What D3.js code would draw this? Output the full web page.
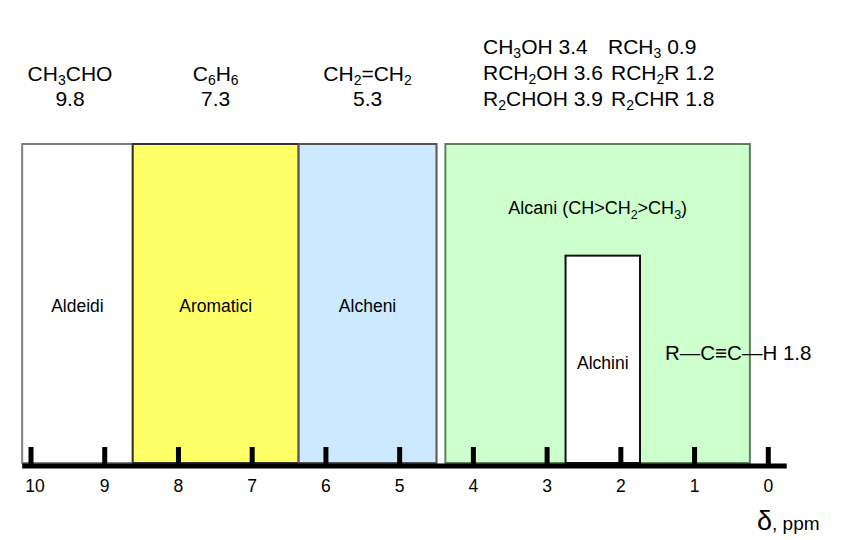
<!DOCTYPE html>
<html><head><meta charset="utf-8">
<script src="https://cdn.jsdelivr.net/npm/d3@7"></script>
<style>
html,body{margin:0;padding:0;background:#fff;}
svg{display:block;font-family:"Liberation Sans",Arial,Helvetica,sans-serif;}
</style></head>
<body>
<svg id="chart" width="853" height="540"></svg>
<script>
// ---- data ----
const regions   = ["Aldeidi", "Aromatici", "Alcheni", "Alcani", "Alchini"];
const fromPpm   = [10.12, 8.62, 6.37, 4.38, 2.75];
const toPpm     = [8.62, 6.37, 4.50, 0.25, 1.74];
const heights   = [100, 100, 100, 100, 65];
const fills     = ["#ffffff", "#ffff66", "#cce9ff", "#ccffcc", "#ffffff"];
const strokes   = ["#808080", "#333333", "#555555", "#5f7f5f", "#111111"];
const ticks     = [10, 9, 8, 7, 6, 5, 4, 3, 2, 1, 0];
// reference compounds above the first three regions: [parts], ppm
const topCompounds = [
  {parts: [["CH"], ["3", "sub"], ["CHO"]], ppm: "9.8", region: 0},
  {parts: [["C"], ["6", "sub"], ["H"], ["6", "sub"]], ppm: "7.3", region: 1},
  {parts: [["CH"], ["2", "sub"], ["=CH"], ["2", "sub"]], ppm: "5.3", region: 2}
];
const alcoholLines = [
  [["CH"], ["3", "sub"], ["OH 3.4"]],
  [["RCH"], ["2", "sub"], ["OH 3.6"]],
  [["R"], ["2", "sub"], ["CHOH 3.9"]]
];
const alkylLines = [
  [["RCH"], ["3", "sub"], [" 0.9"]],
  [["RCH"], ["2", "sub"], ["R 1.2"]],
  [["R"], ["2", "sub"], ["CHR 1.8"]]
];
const alcaniLabel = [["Alcani (CH>CH"], ["2", "sub"], [">CH"], ["3", "sub"], [")"]];
const alchiniNote = "R\u2014C\u2261C\u2014H 1.8";

// ---- scales ----
const svg = d3.select("#chart");
const x = d3.scaleLinear().domain([10, 0]).range([31, 768.3]);
const y = d3.scaleLinear().domain([0, 100]).range([463, 144]);

function addParts(textSel, parts, subSize, shift) {
  let wasSub = false;
  parts.forEach(([t, kind]) => {
    const ts = textSel.append("tspan").text(t);
    if (kind === "sub") { ts.attr("font-size", subSize).attr("dy", shift); wasSub = true; }
    else if (wasSub) { ts.attr("dy", -shift); wasSub = false; }
  });
}

// ---- region boxes ----
const idx = d3.range(regions.length);
svg.append("g").selectAll("rect").data(idx).join("rect")
  .attr("x", i => x(fromPpm[i]))
  .attr("y", i => y(heights[i]))
  .attr("width", i => x(toPpm[i]) - x(fromPpm[i]))
  .attr("height", i => y(0) - y(heights[i]))
  .attr("fill", i => fills[i])
  .attr("stroke", i => strokes[i])
  .attr("stroke-width", 2);

// region labels
[0, 1, 2].forEach(i => {
  svg.append("text")
    .attr("x", (x(fromPpm[i]) + x(toPpm[i])) / 2)
    .attr("y", 312)
    .attr("text-anchor", "middle")
    .attr("font-size", 17.5)
    .text(regions[i]);
});
const alcT = svg.append("text")
  .attr("x", (x(fromPpm[3]) + x(toPpm[3])) / 2)
  .attr("y", 214)
  .attr("text-anchor", "middle")
  .attr("font-size", 18);
addParts(alcT, alcaniLabel, 12.5, 5);
svg.append("text")
  .attr("x", (x(fromPpm[4]) + x(toPpm[4])) / 2)
  .attr("y", 369)
  .attr("text-anchor", "middle")
  .attr("font-size", 17.5)
  .text(regions[4]);
svg.append("text")
  .attr("x", 665).attr("y", 360)
  .attr("font-size", 20.5)
  .text(alchiniNote);

// ---- axis ----
const ax = svg.append("g");
ax.append("line")
  .attr("x1", x(10.12)).attr("x2", x(-0.25))
  .attr("y1", 466).attr("y2", 466)
  .attr("stroke", "#000").attr("stroke-width", 5);
ax.selectAll("line.tick").data(ticks).join("line")
  .attr("class", "tick")
  .attr("x1", d => x(d)).attr("x2", d => x(d))
  .attr("y1", 447).attr("y2", 464)
  .attr("stroke", "#000").attr("stroke-width", 5);
ax.selectAll("text").data(ticks).join("text")
  .attr("x", d => x(d) + (d === 10 ? 4 : 0))
  .attr("y", 492)
  .attr("text-anchor", "middle")
  .attr("font-size", 17.5)
  .text(d => d);
const dl = svg.append("text").attr("x", 757).attr("y", 530);
dl.append("tspan").attr("font-size", 27).text("\u03b4");
dl.append("tspan").attr("font-size", 19).text(", ppm");

// ---- top annotations ----
topCompounds.forEach(c => {
  const cx = c.region === 0 ? 70 : (x(fromPpm[c.region]) + x(toPpm[c.region])) / 2;
  const t = svg.append("text").attr("x", cx).attr("y", 81)
    .attr("text-anchor", "middle").attr("font-size", 21);
  addParts(t, c.parts, 14, 4);
  svg.append("text").attr("x", cx).attr("y", 106)
    .attr("text-anchor", "middle").attr("font-size", 21).text(c.ppm);
});
alcoholLines.forEach((ln, k) => {
  const t = svg.append("text").attr("x", 483).attr("y", 54 + k * 26).attr("font-size", 21);
  addParts(t, ln, 14, 4);
});
alkylLines.forEach((ln, k) => {
  const t = svg.append("text").attr("x", k === 0 ? 608 : 611).attr("y", 54 + k * 26).attr("font-size", 21);
  addParts(t, ln, 14, 4);
});
</script>
</body></html>
